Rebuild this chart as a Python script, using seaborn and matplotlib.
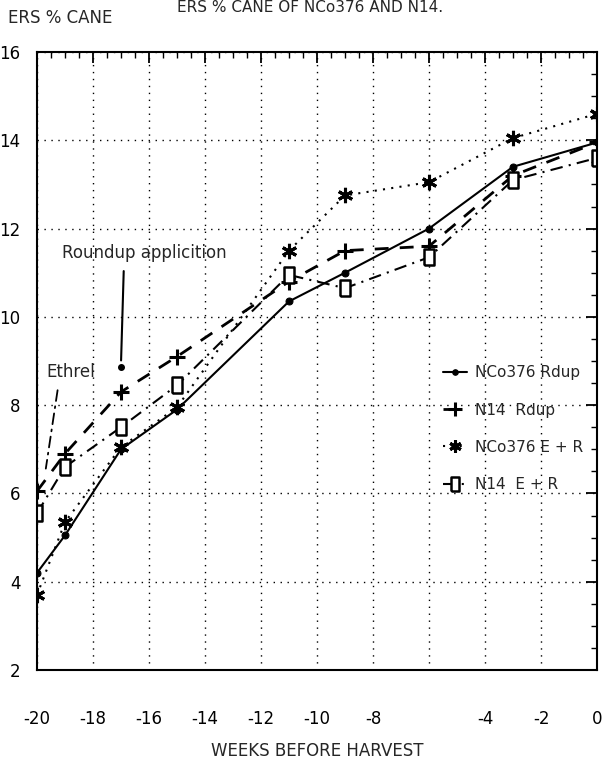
import matplotlib
matplotlib.use("Agg")
import matplotlib.pyplot as plt
import seaborn as sns
import numpy as np
import pandas as pd

weeks = [-20, -19, -17, -15, -11, -9, -6, -3, 0]
nco376_rdup = [4.2, 5.05, 7.0, 7.9, 10.35, 11.0, 12.0, 13.4, 13.95]
n14_rdup = [6.05, 6.9, 8.3, 9.1, 10.8, 11.5, 11.6, 13.2, 13.95]
nco376_er = [3.7, 5.35, 7.05, 7.95, 11.5, 12.75, 13.05, 14.05, 14.6]
n14_er = [5.55, 6.6, 7.5, 8.45, 10.95, 10.65, 11.35, 13.1, 13.6]

series_labels = ["NCo376 Rdup", "N14  Rdup", "NCo376 E + R", "N14  E + R"]
x_ticks = [-20, -18, -16, -14, -12, -10, -8, -6, -4, -2, 0]
x_tick_labels = ["-20", "-18", "-16", "-14", "-12", "-10", "-8", "", "-4", "-2", "0"]
y_ticks = [2, 4, 6, 8, 10, 12, 14, 16]

sns.set_style("white")
plt.rcParams["font.family"] = ["DejaVu Sans"]

fig = plt.figure(figsize=(6.04, 7.67), dpi=100)
ax = fig.add_axes([37 / 604, 1 - 670 / 767, 560 / 604, (670 - 52) / 767])

rect = [(-0.6, -1), (0.6, -1), (0.6, 1), (-0.6, 1), (-0.6, -1)]
styles = [
    dict(marker="o", markersize=5, linestyle="-", linewidth=1.5),
    dict(marker="+", markersize=12, markeredgewidth=2.2, linestyle=(0, (5, 4)), linewidth=2),
    dict(marker=(6, 2, 0), markersize=11, markeredgewidth=2.2, linestyle=(0, (1, 3)), linewidth=1.5),
    dict(marker=rect, markersize=12, markeredgewidth=1.8, markerfacecolor="white",
         linestyle=(0, (6, 3, 1, 3)), linewidth=1.5),
]
for vals, lab, st in zip([nco376_rdup, n14_rdup, nco376_er, n14_er], series_labels, styles):
    df = pd.DataFrame({"week": weeks, "val": vals})
    sns.lineplot(data=df, x="week", y="val", ax=ax, color="black", label=lab,
                 markeredgecolor="black", **st)

ax.set_xlim(-20, 0)
ax.set_ylim(2, 16)
ax.set_xticks(x_ticks)
ax.set_xticklabels(x_tick_labels)
ax.set_yticks(y_ticks)
ax.set_xticks(np.arange(-20, 0.01, 0.5), minor=True)
ax.set_yticks(np.arange(2, 16.01, 0.5), minor=True)
ax.tick_params(which="both", direction="in", top=True, right=True, colors="black")
ax.tick_params(which="major", length=8, width=1.3, labelsize=12)
ax.tick_params(which="minor", length=4, width=1)
ax.tick_params(axis="x", which="major", pad=29)
ax.tick_params(axis="y", which="major", pad=12)
ax.grid(True, which="major", linestyle=(0, (1, 4)), color="black", linewidth=1)
for s in ax.spines.values():
    s.set_color("black")
    s.set_linewidth(1.5)

ax.set_xlabel("WEEKS BEFORE HARVEST", fontsize=12, labelpad=10)
ax.set_ylabel("")
fig.text(8 / 604, 1 - 18 / 767, "ERS % CANE", fontsize=12, ha="left", va="center")
fig.text(310 / 604, 1 - 7 / 767, "ERS % CANE OF NCo376 AND N14.", fontsize=11, ha="center", va="center")

leg = ax.legend(loc="upper left", bbox_to_anchor=(0.70, 0.515), frameon=False, fontsize=11,
                handlelength=1.6, labelspacing=1.45, handletextpad=0.5, markerscale=0.8)

# annotations
ax.text(-19.1, 11.45, "Roundup applicition", fontsize=12, ha="left", va="center")
ax.annotate("", xy=(-17.0, 8.95), xytext=(-16.9, 11.1),
            arrowprops=dict(arrowstyle="-", color="black", lw=1.5))
ax.plot([-17.0], [8.86], marker="o", markersize=4, color="black")
ax.text(-19.65, 8.75, "Ethrel", fontsize=12, ha="left", va="center")
ax.annotate("", xy=(-19.7, 6.5), xytext=(-19.25, 8.4),
            arrowprops=dict(arrowstyle="-", color="black", lw=1.3, linestyle=(0, (6, 3, 1, 3))))

fig.savefig("out.png", dpi=100)
